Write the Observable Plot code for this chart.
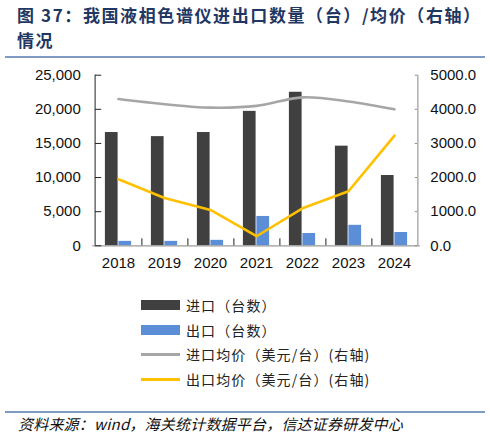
<!DOCTYPE html>
<html><head><meta charset="utf-8">
<script src="https://cdn.jsdelivr.net/npm/d3@7"></script>
<script src="https://cdn.jsdelivr.net/npm/@observablehq/plot@0.6"></script>
<style>
body{margin:0;width:490px;height:437px;position:relative;background:#fff;font-family:"Noto Sans CJK SC",sans-serif;overflow:hidden}
#title{position:absolute;left:17px;top:2px;width:472px;font-size:17px;font-weight:bold;color:#1f3763;line-height:25px;letter-spacing:1.6px;white-space:nowrap}
.hr{position:absolute;left:5px;width:480px;height:2px;background:#7f9bc2}
#chart{position:absolute;left:0;top:60px}
#legend{position:absolute;left:141px;top:293px}
.item{display:flex;align-items:center;height:24.6px;font-size:14px;color:#222;letter-spacing:1.1px}
.sw{width:39px;margin-right:6px}
#src{position:absolute;left:18px;top:413px;font-size:15px;font-style:italic;color:#111;letter-spacing:0.2px;white-space:nowrap}
</style></head>
<body>
<div id="title">图 37：我国液相色谱仪进出口数量（台）/均价（右轴）<br>情况</div>
<div class="hr" style="top:56px"></div>
<div id="chart"></div>
<div id="legend"></div>
<div class="hr" style="top:410.5px"></div>
<div id="src">资料来源：wind，海关统计数据平台，信达证券研发中心</div>
<script>
const years = ["2018","2019","2020","2021","2022","2023","2024"];
const importQty = [16600,16000,16600,19700,22500,14600,10300];
const exportQty = [650,650,800,4300,1800,3000,1950];
const importPrice = [4300,4150,4050,4100,4350,4230,4000];
const exportPrice = [1950,1400,1050,280,1100,1600,3230];
const leftTicks = [0,5000,10000,15000,20000,25000];
const seriesNames = ["进口（台数）","出口（台数）","进口均价（美元/台）(右轴)","出口均价（美元/台）(右轴)"];
const colors = ["#404040","#5b8ed6","#a6a6a6","#ffc000"];

const ratio = 25000/5000;
const rows = years.map((y,i)=>({year:y, imp:importQty[i], exp:exportQty[i], ip:importPrice[i]*ratio, ep:exportPrice[i]*ratio}));

const W=490, H=220, mL=92.3, mR=70.2, mT=14.7, mB=34.7;
const bw = (W-mL-mR)/years.length;
const barW = 13.5;
const tickLen = 7*25000/170.6;

const chart = Plot.plot({
  width: W, height: H, marginLeft: mL, marginRight: mR, marginTop: mT, marginBottom: mB,
  style: {fontFamily: "'Liberation Sans', Arial, sans-serif", fontSize: "15px", color: "#111", background: "transparent"},
  x: {type: "band", domain: years, padding: 0},
  y: {domain: [0, 25000]},
  marks: [
    Plot.barY(rows, {x: "year", y: "imp", fill: colors[0], insetLeft: bw/2 - barW, insetRight: bw/2}),
    Plot.barY(rows, {x: "year", y: "exp", fill: colors[1], insetLeft: bw/2, insetRight: bw/2 - barW}),
    Plot.ruleY([0], {stroke: "#9a9a9a", strokeWidth: 1.2}),
    Plot.ruleX(years.slice(0,-1), {x: d=>d, dx: bw/2, y1: 0, y2: tickLen, stroke: "#222"}),
    Plot.ruleX([years[0]], {x: d=>d, dx: -bw/2, y1: 0, y2: 25000, stroke: "#222"}),
    Plot.ruleX([years[years.length-1]], {x: d=>d, dx: bw/2, y1: 0, y2: 25000, stroke: "#888"}),
    Plot.tickY(leftTicks, {y: d=>d, x: () => years[0], insetRight: bw - 7, stroke: "#222"}),
    Plot.tickY(leftTicks, {y: d=>d, x: () => years[years.length-1], insetLeft: bw - 3, stroke: "#888"}),
    Plot.lineY(rows, {x: "year", y: "ip", stroke: colors[2], strokeWidth: 2.6, curve: "catmull-rom"}),
    Plot.lineY(rows, {x: "year", y: "ep", stroke: colors[3], strokeWidth: 2.6}),
    Plot.axisY({anchor: "left", ticks: leftTicks, tickFormat: d3.format(","), tickSize: 0, tickPadding: 12, label: null}),
    Plot.axisY({anchor: "right", ticks: leftTicks, tickFormat: d => (d/ratio).toFixed(1), tickSize: 0, tickPadding: 10, label: null}),
    Plot.axisX({tickSize: 0, tickPadding: 12, label: null})
  ]
});
document.getElementById("chart").appendChild(chart);

const leg = document.getElementById("legend");
seriesNames.forEach((n,i)=>{
  const it = document.createElement("div"); it.className="item";
  const sw = document.createElement("div"); sw.className="sw";
  sw.style.height = i<2 ? "10px" : "3px";
  sw.style.background = colors[i];
  const tx = document.createElement("span"); tx.textContent = n;
  it.appendChild(sw); it.appendChild(tx); leg.appendChild(it);
});
</script>
</body></html>
